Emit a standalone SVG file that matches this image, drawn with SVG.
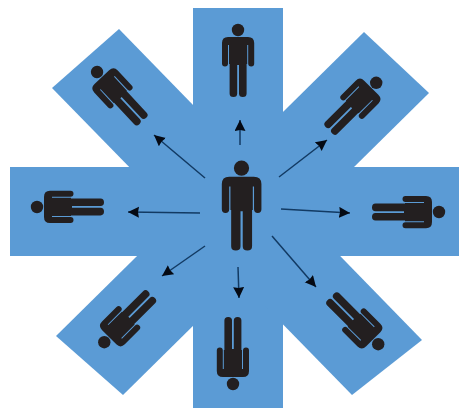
<svg xmlns="http://www.w3.org/2000/svg" width="459" height="408" viewBox="0 0 459 408">
<defs>
<marker id="ah" markerUnits="userSpaceOnUse" markerWidth="13" markerHeight="13" refX="11" refY="5.5" orient="auto"><path d="M0,0 L11,5.5 L0,11 L1,5.5 Z" fill="#050a14"/></marker>
<g id="person"><circle cx="0" cy="-30" r="6.2"/><path d="M-10,-23 H10 Q16.2,-23 16.2,-17 V3.5 Q16.2,6.5 13.2,6.5 Q10.2,6.5 10.2,3.5 V-15 H9.2 V4 H8.6 V33.5 Q8.6,37 4.8,37 Q1,37 1,33.5 V5 H-0.8 V33.5 Q-0.8,37 -4.6,37 Q-8.4,37 -8.4,33.5 V4 H-9 V-15 H-10 V3.5 Q-10,6.5 -13,6.5 Q-16,6.5 -16,3.5 V-17 Q-16,-23 -10,-23 Z"/></g>
</defs>
<style>.b{fill:#5b9bd5}.p{fill:#231f20}.c{stroke:#123a63;stroke-width:1.5;fill:none;marker-end:url(#ah)}</style>
<g id="star"><path class="b" d="M193,8H283V408H193Z"/><path class="b" d="M10,167H459V256H10Z"/><path class="b" d="M119,29L422,340L352,395L52,88Z"/><path class="b" d="M364,32L429,93L123,395L56,336Z"/></g>
<g id="connectors">
<path class="c" d="M240,145V120"/><path class="c" d="M279,177L327,140"/><path class="c" d="M281,209L350,213"/><path class="c" d="M272,236L316,287"/><path class="c" d="M238,267L239,298"/><path class="c" d="M205,246L162,276"/><path class="c" d="M200,213L128,212"/><path class="c" d="M205,178L154,135"/>
</g>
<g id="n-center" class="p"><use href="#person" transform="translate(241.5,205) scale(1.23)"/></g>
<g id="n-top" class="p"><use href="#person" transform="translate(238,60)"/></g>
<g id="n-ur" class="p"><use href="#person" transform="translate(355,104) rotate(45)"/></g>
<g id="n-r" class="p"><use href="#person" transform="translate(409,212) rotate(90)"/></g>
<g id="n-dr" class="p"><use href="#person" transform="translate(357,323) rotate(135)"/></g>
<g id="n-d" class="p"><use href="#person" transform="translate(233,354) rotate(180)"/></g>
<g id="n-dl" class="p"><use href="#person" transform="translate(125.5,321) rotate(-135)"/></g>
<g id="n-l" class="p"><use href="#person" transform="translate(67,207) rotate(-90)"/></g>
<g id="n-ul" class="p"><use href="#person" transform="translate(117.5,94) rotate(-43)"/></g>
</svg>
